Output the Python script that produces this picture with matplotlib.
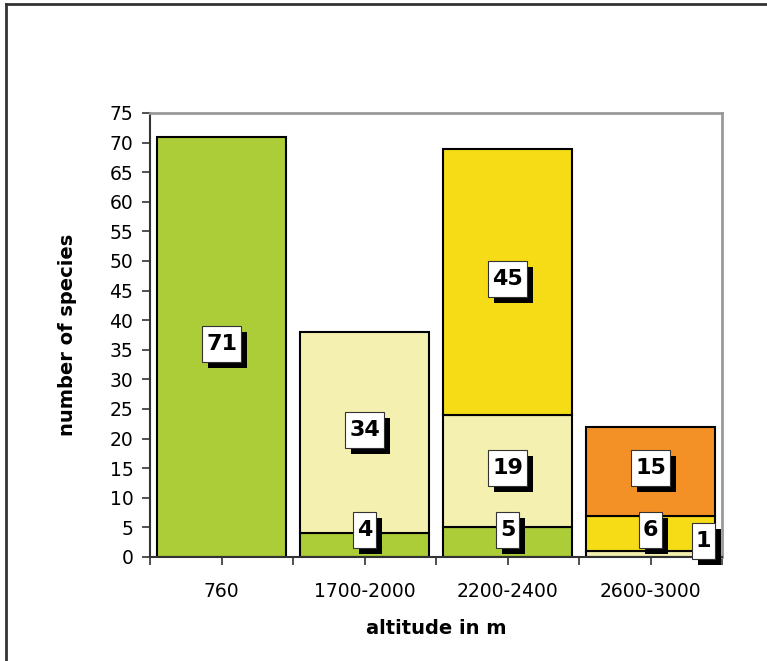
import matplotlib
matplotlib.use('Agg')
import matplotlib.pyplot as plt
import matplotlib.patheffects as pe
from matplotlib.lines import Line2D
from matplotlib.path import Path
import numpy as np

plt.rcParams['font.family'] = 'DejaVu Sans'

# ------------ data ------------ #
categories = ['760', '1700-2000', '2200-2400', '2600-3000']
green_vals = [71, 4, 5, 0]
pale_vals = [0, 34, 19, 1]
yellow_vals = [0, 0, 45, 6]
orange_vals = [0, 0, 0, 15]
yticks = list(range(0, 76, 5))

series = [green_vals, pale_vals, yellow_vals, orange_vals]
colors = ['#ACCD38', '#F4F0B0', '#F6DB17', '#F39026']

# label placement tweaks (series index, category index) -> (dx, dy)
label_nudge = {(1, 3): (0.37, -1.9)}


def tall_box(x0, y0, width, height, mutation_size):
    # rectangle with more padding above/below than at the sides
    px = 0.17 * mutation_size
    py = 0.36 * mutation_size
    x0, y0 = x0 - px, y0 - py
    x1, y1 = x0 + width + 2 * px, y0 + height + 2 * py
    return Path([(x0, y0), (x1, y0), (x1, y1), (x0, y1), (x0, y0)],
                closed=True)


# ------------ figure ------------ #
fig = plt.figure(figsize=(7.67, 6.61), dpi=100)
ax = fig.add_axes([150 / 767, 104 / 661, 572 / 767, 444 / 661])

x = np.arange(len(categories))
bottom = np.zeros(len(categories))
labels = []
for si, (vals, c) in enumerate(zip(series, colors)):
    vals = np.array(vals, dtype=float)
    m = vals > 0
    ax.bar(x[m], vals[m], width=0.9, bottom=bottom[m], color=c,
           edgecolor='black', linewidth=1.5, zorder=2)
    for ci in np.where(m)[0]:
        ly = max(bottom[ci] + vals[ci] / 2 + 0.5, 4.6)
        dx, dy = label_nudge.get((si, ci), (0, 0))
        labels.append((x[ci] + dx, ly + dy, int(vals[ci])))
    bottom = bottom + vals

for lx, ly, v in labels:
    t = ax.text(lx, ly, str(v), ha='center', va='center', fontsize=16,
                fontweight='bold', zorder=5,
                bbox=dict(boxstyle=tall_box, facecolor='white',
                          edgecolor='#333333', linewidth=0.8))
    t.get_bbox_patch().set_path_effects([
        pe.SimplePatchShadow(offset=(4.3, -4.3), shadow_rgbFace='black', alpha=1.0),
        pe.Normal()])

ax.set_xlim(-0.5, 3.5)
ax.set_ylim(0, 75)
ax.set_yticks(yticks)
ax.set_xticks(x, categories)
ax.set_xticks(np.arange(-0.5, 4, 1), minor=True)
ax.tick_params(axis='both', which='both', direction='out', length=6,
               width=1.2, color='#333333', labelsize=13.5)
ax.tick_params(axis='x', which='major', pad=12)
ax.tick_params(axis='y', pad=6)

for s in ['left', 'bottom']:
    ax.spines[s].set_color('#333333')
    ax.spines[s].set_linewidth(1.5)
for s in ['top', 'right']:
    ax.spines[s].set_color('#999999')
    ax.spines[s].set_linewidth(2)

ax.set_xlabel('altitude in m', fontsize=14, fontweight='bold')
ax.set_ylabel('number of species', fontsize=14, fontweight='bold')
ax.xaxis.set_label_coords(0.5, -0.14)
ax.yaxis.set_label_coords(-0.127, 0.5)

# outer frame (left and top edges)
fig.add_artist(Line2D([6 / 767, 6 / 767], [0, 1 - 4 / 661],
                      transform=fig.transFigure, color='#333333', lw=2))
fig.add_artist(Line2D([6 / 767, 1], [1 - 4 / 661, 1 - 4 / 661],
                      transform=fig.transFigure, color='#333333', lw=2))

fig.savefig('out.png', dpi=100)
